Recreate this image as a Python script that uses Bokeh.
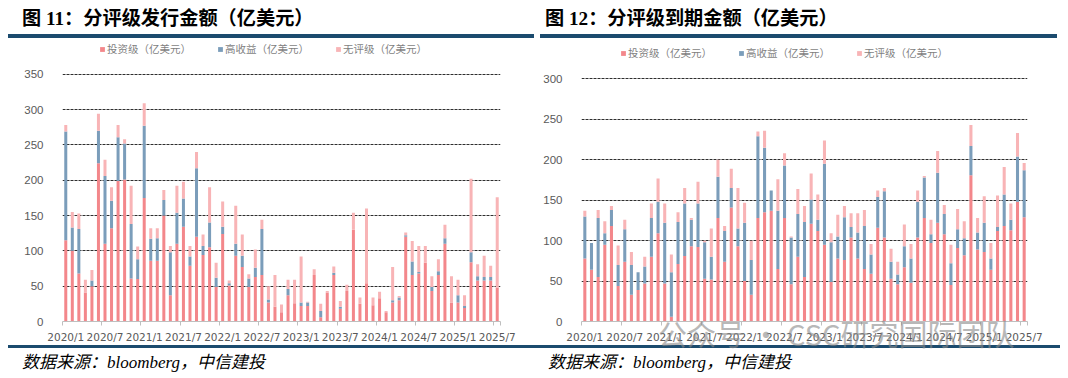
from bokeh.plotting import figure
from bokeh.models import ColumnDataSource, FixedTicker, Legend, LegendItem, Div
from bokeh.layouts import column, row
from bokeh.embed import file_html
from bokeh.resources import INLINE

# ---------------- data ----------------
months = [f"{y}/{m}" for y in range(2020, 2026) for m in range(1, 13)][:67]
tick_labels = ["2020/1", "2020/7", "2021/1", "2021/7", "2022/1", "2022/7",
               "2023/1", "2023/7", "2024/1", "2024/7", "2025/1", "2025/7"]
series_names = ["投资级（亿美元）", "高收益（亿美元）", "无评级（亿美元）"]

# 图11 发行金额
issue_ig = [115, 100, 68, 41, 50, 224, 110, 132, 199, 201, 61, 60,
            175, 86, 86, 150, 37, 110, 134, 79, 120, 94, 105, 49,
            124, 51, 93, 77, 49, 63, 66, 27, 21, 13, 37, 26,
            22, 22, 66, 6, 41, 66, 18, 43, 130, 25, 54, 23,
            33, 13, 27, 30, 120, 66, 68, 83, 43, 66, 110, 27,
            27, 19, 84, 58, 58, 58, 48]
issue_hy = [154, 33, 63, 0, 8, 46, 96, 39, 62, 51, 77, 28,
            102, 31, 32, 22, 61, 44, 40, 13, 97, 13, 35, 13,
            10, 3, 17, 16, 12, 13, 65, 4, 0, 0, 9, 0,
            5, 5, 0, 9, 0, 3, 3, 0, 0, 0, 0, 0,
            0, 0, 3, 4, 2, 19, 2, 0, 6, 5, 8, 0,
            10, 3, 14, 6, 5, 5, 0]
issue_nr = [9, 22, 22, 18, 15, 24, 23, 19, 17, 6, 54, 18,
            32, 15, 14, 14, 9, 38, 24, 15, 23, 16, 50, 21,
            36, 4, 54, 30, 6, 26, 13, 19, 45, 11, 13, 33,
            65, 1, 8, 10, 2, 9, 8, 9, 24, 9, 106, 11,
            9, 2, 47, 2, 4, 29, 37, 24, 15, 17, 19, 37,
            22, 15, 104, 17, 30, 16, 128]

# 图12 到期金额
mat_ig = [78, 64, 55, 95, 118, 44, 74, 33, 39, 47, 80, 109,
          47, 6, 71, 81, 93, 92, 53, 52, 128, 74, 141, 93,
          50, 33, 128, 135, 137, 65, 128, 46, 80, 55, 121, 112,
          95, 49, 78, 76, 104, 78, 65, 59, 116, 104, 53, 46,
          67, 48, 104, 128, 97, 122, 108, 45, 91, 82, 181, 89,
          86, 64, 112, 118, 113, 148, 129]
mat_hy = [52, 33, 73, 14, 20, 26, 40, 37, 22, 21, 48, 39,
          75, 55, 52, 65, 33, 54, 45, 28, 51, 38, 24, 22,
          72, 43, 101, 80, 25, 72, 65, 58, 53, 68, 30, 14,
          100, 49, 27, 53, 13, 32, 53, 24, 38, 57, 21, 12,
          26, 30, 44, 50, 11, 62, 25, 27, 23, 21, 36, 21,
          36, 14, 5, 39, 13, 56, 58]
mat_nr = [7, 0, 10, 15, 5, 24, 12, 16, 0, 12, 18, 29,
          24, 22, 12, 19, 2, 27, 2, 35, 21, 6, 24, 50,
          25, 24, 6, 21, 0, 39, 15, 1, 31, 20, 32, 31,
          29, 11, 27, 14, 17, 24, 20, 13, 8, 4, 16, 16,
          27, 18, 14, 2, 18, 27, 11, 23, 25, 21, 26, 18,
          33, 19, 39, 34, 20, 29, 9]

# ---------------- style ----------------
C_IG = "#F3878B"
C_HY = "#7B9DBA"
C_NR = "#F8B4B6"
NAVY = "#1B4B6E"
SANS = "'Liberation Sans', Arial, 'Noto Sans CJK SC'"
TICKFONT = "'DejaVu Sans', 'Liberation Sans', Arial"


def make_chart(ig, hy, nr, ymax, width, height, mb_l, mb_r, mb_b, data_px, y_standoff, legend_x, legend_y):
    n = len(months)
    mb_t = 2
    frame_h = height - mb_t - mb_b
    y_end = ymax * frame_h / data_px  # headroom above top gridline holds the legend
    src = ColumnDataSource(dict(x=list(range(n)), ig=ig, hy=hy, nr=nr))
    p = figure(width=width, height=height, x_range=(-0.5, n - 0.5), y_range=(0, y_end),
               output_backend="svg", toolbar_location=None,
               min_border_left=mb_l, min_border_right=mb_r, min_border_top=mb_t, min_border_bottom=mb_b)
    p.outline_line_color = None
    p.background_fill_color = "white"
    p.border_fill_color = "white"
    rs = p.vbar_stack(["ig", "hy", "nr"], x="x", width=0.46, source=src,
                      fill_color=[C_IG, C_HY, C_NR], line_color=None)

    tick_pos = [months.index(t) for t in tick_labels]
    p.xaxis.ticker = FixedTicker(ticks=tick_pos,
                                 minor_ticks=[t - 0.5 for t in tick_pos] + [n - 0.5])
    p.xaxis.major_label_overrides = {pos: lab for pos, lab in zip(tick_pos, tick_labels)}
    p.xaxis.major_tick_line_color = None
    p.xaxis.major_tick_in = 0
    p.xaxis.major_tick_out = 0
    p.xaxis.minor_tick_line_color = "#BFBFBF"
    p.xaxis.minor_tick_in = 0
    p.xaxis.minor_tick_out = 4
    p.xaxis.axis_line_color = "#BFBFBF"
    p.xaxis.major_label_standoff = 5
    p.xaxis.major_label_text_font = TICKFONT
    p.xaxis.major_label_text_font_size = "10.5px"
    p.xaxis.major_label_text_color = "#595959"

    p.yaxis.ticker = FixedTicker(ticks=list(range(0, ymax + 1, 50)))
    p.yaxis.axis_line_color = None
    p.yaxis.major_tick_line_color = None
    p.yaxis.minor_tick_line_color = None
    p.yaxis.major_label_standoff = y_standoff
    p.yaxis.major_label_text_font = SANS
    p.yaxis.major_label_text_font_size = "11.5px"
    p.yaxis.major_label_text_color = "#595959"

    p.xgrid.visible = False
    p.ygrid.ticker = FixedTicker(ticks=list(range(50, ymax + 1, 50)))
    p.ygrid.grid_line_color = "#2E2E2E"
    p.ygrid.grid_line_dash = "3 1"
    p.ygrid.grid_line_width = 1

    legend = Legend(items=[LegendItem(label=lbl, renderers=[r]) for lbl, r in zip(series_names, rs)],
                    orientation="horizontal", location=(legend_x, legend_y),
                    glyph_width=6, glyph_height=6, label_standoff=2, spacing=26,
                    padding=0, margin=0, border_line_color=None, background_fill_alpha=0,
                    label_text_font=SANS, label_text_font_size="10.5px",
                    label_text_color="#7F7F7F", label_height=12)
    p.add_layout(legend)
    return p


p1 = make_chart(issue_ig, issue_hy, issue_nr, 350, 534, 307, 62, 34, 22, 249, 13, 37, 265)
p2 = make_chart(mat_ig, mat_hy, mat_nr, 300, 534, 307, 47, 41, 20, 246, 13, 39, 261)

title_style = ("height:38px;box-sizing:border-box;border-bottom:4px solid " + NAVY + ";"
               "padding-top:7px;font-family:'Liberation Serif','Noto Sans CJK SC',serif;font-weight:bold;"
               "font-size:19.2px;line-height:24px;color:#000;white-space:nowrap;")
t1 = Div(text=f'<div style="width:526px;margin-left:8px;padding-left:14px;{title_style}">图 11：分评级发行金额（亿美元）</div>',
         width=534, height=38, margin=0)
t2 = Div(text=f'<div style="width:517px;margin-left:6px;padding-left:5px;{title_style}">图 12：分评级到期金额（亿美元）</div>',
         width=534, height=38, margin=0)

src_style = ("position:absolute;top:8px;font-family:'Liberation Serif','Noto Sans CJK SC',serif;"
             "font-style:italic;font-size:17px;line-height:20px;color:#000;white-space:nowrap;")
wm_style = ("position:absolute;top:-27px;left:658px;font-family:'Noto Sans CJK SC',sans-serif;"
            "font-size:29px;line-height:30px;color:#8A8A8A;opacity:0.6;white-space:nowrap;z-index:5;")
bottom = Div(text=(f'<div style="position:relative;width:1068px;height:33px;overflow:visible;">'
                   f'<div style="position:absolute;left:8px;top:0;width:1052px;height:0;border-top:3px solid {NAVY};"></div>'
                   f'<span style="left:22px;{src_style}">数据来源：bloomberg，中信建投</span>'
                   f'<span style="left:548px;{src_style}">数据来源：bloomberg，中信建投</span>'
                   f'<span style="{wm_style}">公众号 · CSC研究国际团队</span></div>'),
             width=1068, height=33, margin=0, styles={"overflow": "visible", "z-index": "5"})

layout = column(row(t1, t2, spacing=0), row(p1, p2, spacing=0), bottom, spacing=0)

open("out.html", "w").write(file_html(layout, INLINE))
